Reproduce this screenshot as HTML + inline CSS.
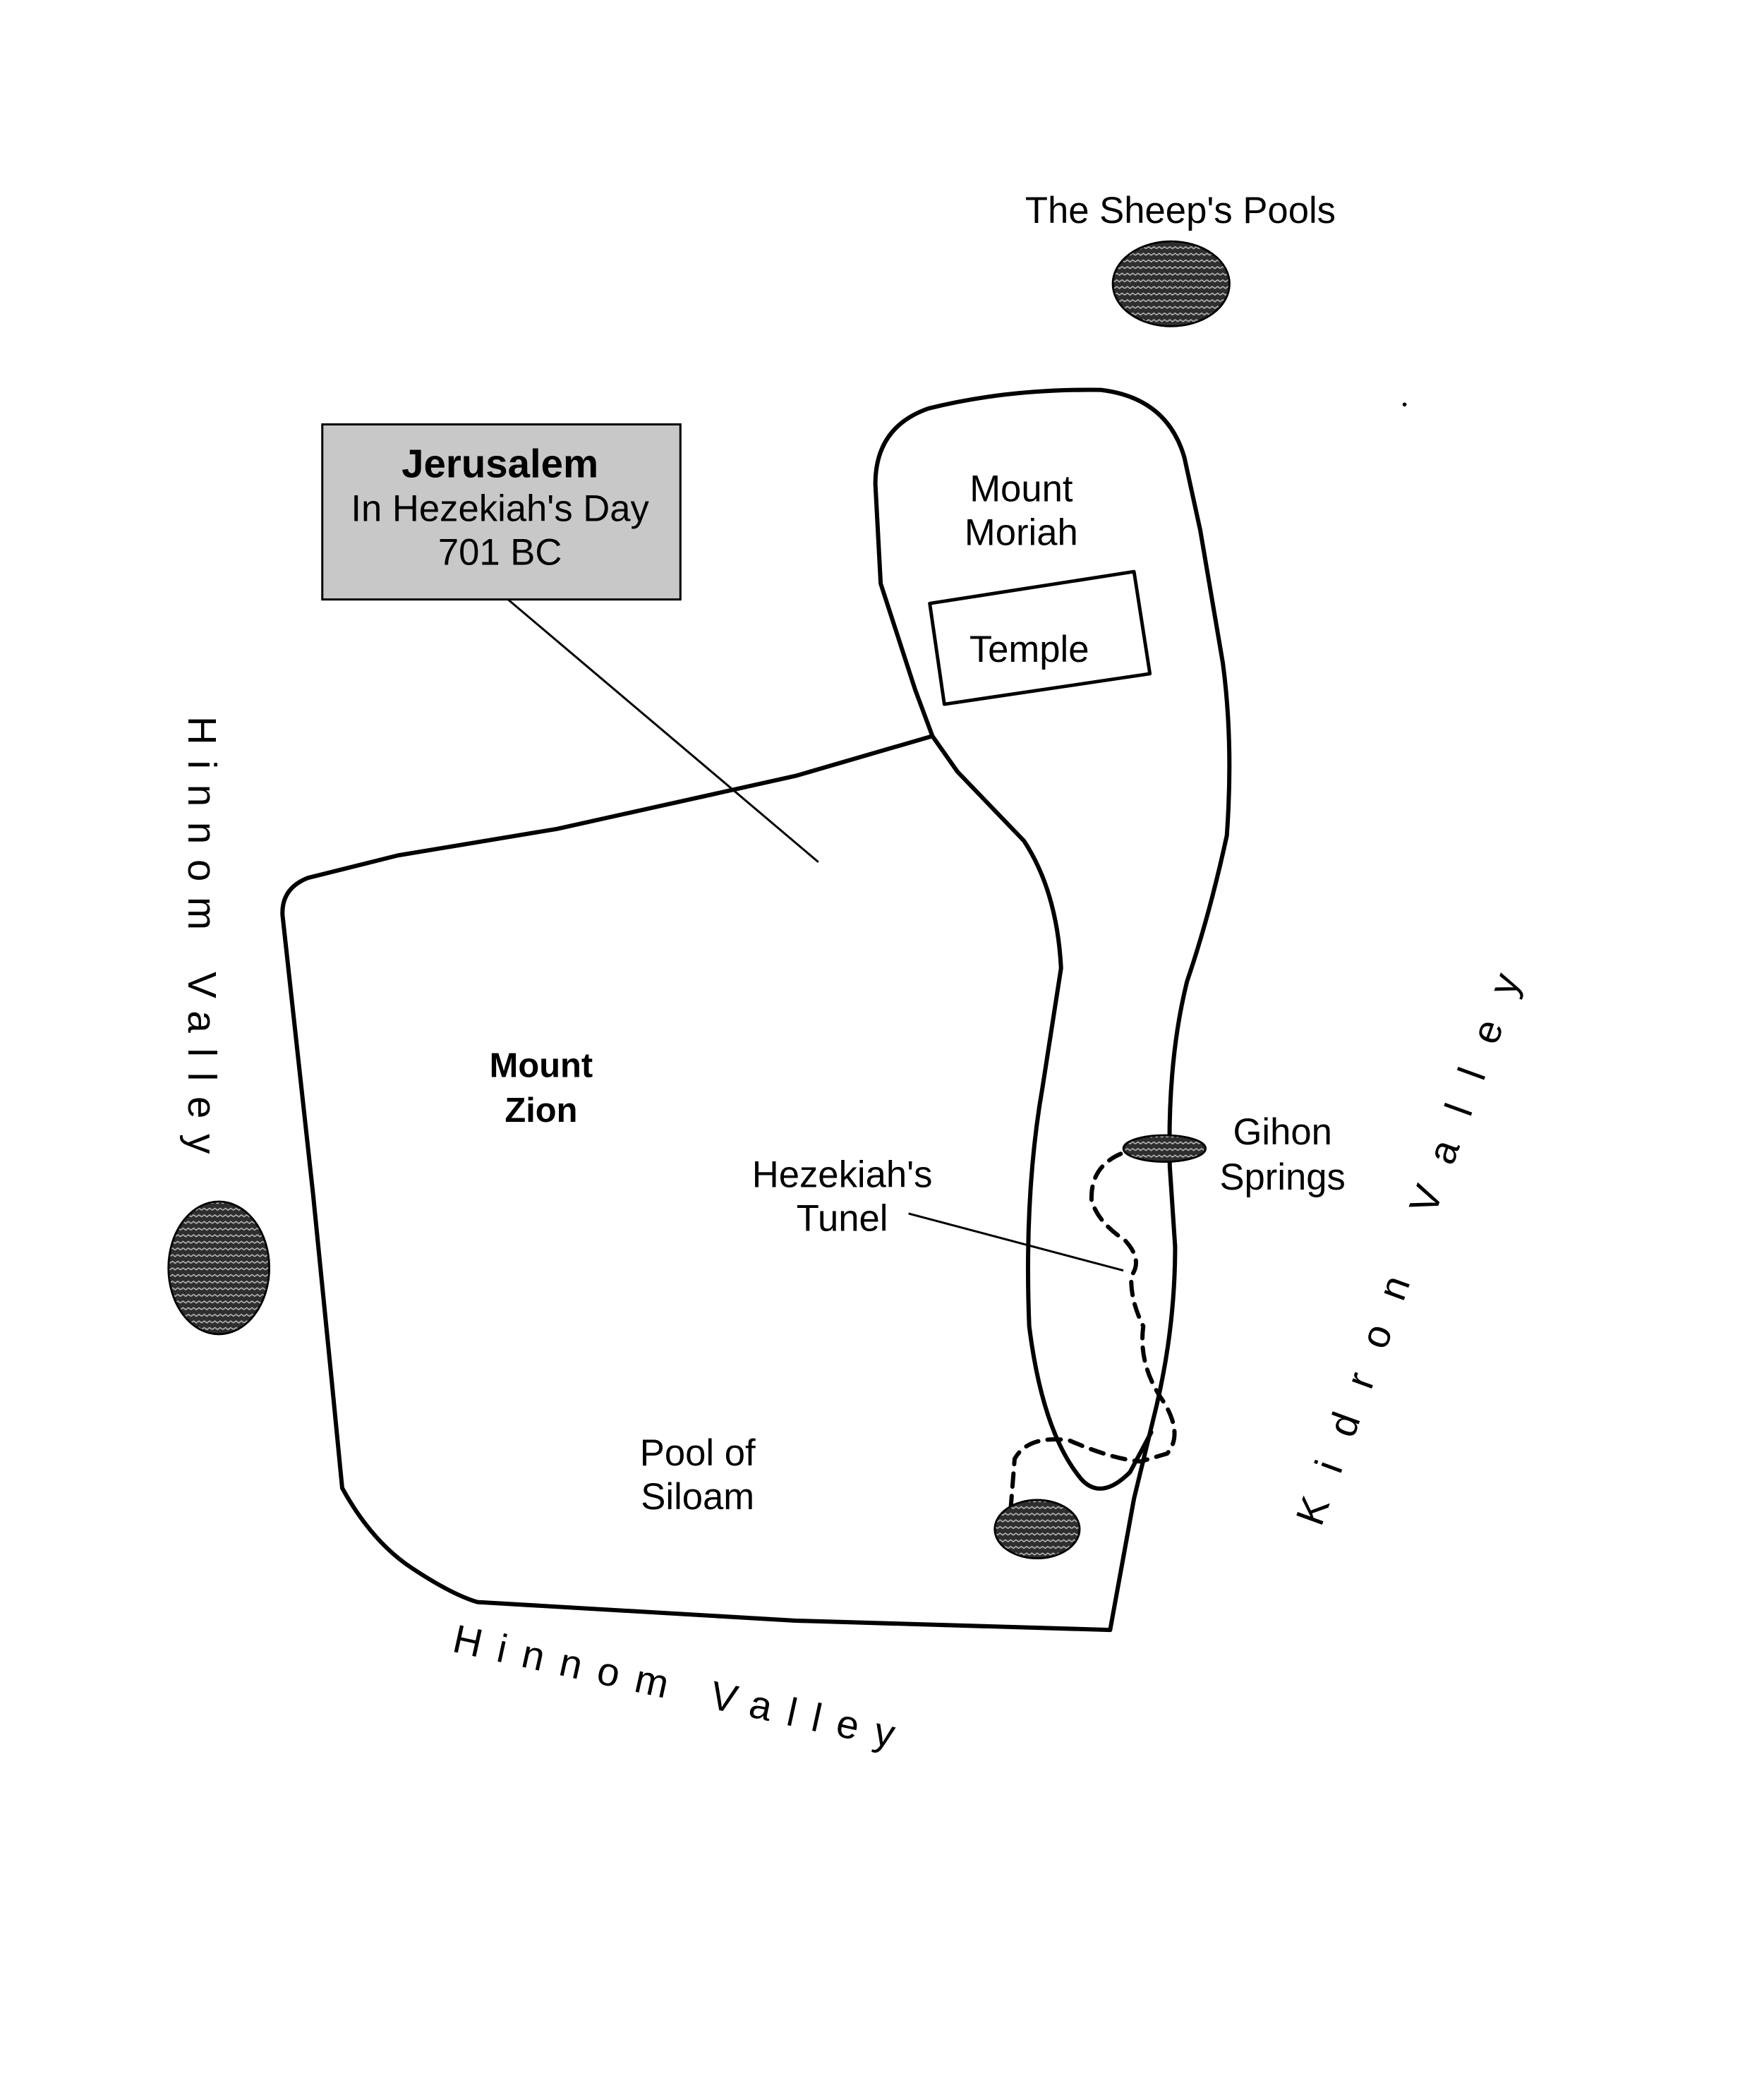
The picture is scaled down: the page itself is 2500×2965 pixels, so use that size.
<!DOCTYPE html>
<html><head><meta charset="utf-8"><style>html,body{margin:0;padding:0;background:#fff}svg{display:block}</style></head>
<body>
<svg width="2500" height="2965" viewBox="0 0 1330 1577.4" xmlns="http://www.w3.org/2000/svg" font-family="Liberation Sans, Arial, sans-serif">
<defs>
<pattern id="wv" width="8" height="5" patternUnits="userSpaceOnUse">
<rect width="8" height="5" fill="#2e2e2e"/>
<path d="M0,2.5 L2,1 L4,2.5 L6,1 L8,2.5" stroke="#bbb" stroke-width="0.8" fill="none"/>
</pattern>
</defs>
<rect width="1330" height="1577.4" fill="#fff"/>
<g fill="none" stroke="#000" stroke-width="3.2" stroke-linejoin="round" stroke-linecap="round">
<path d="M703,555 L600,585 L420,625 L300,645 L232,662 Q212,670 213,690 L236,900 L250,1040 L258,1122 Q280,1162 310,1182 Q340,1202 360,1208 L600,1222 L837,1229 L855,1130 L872,1060 Q886,1000 886,940 L882,880 Q880,800 895,740 Q912,690 925,630 Q930,560 922,500 L905,400 L893,345 Q880,300 830,294 Q760,293 700,308 Q660,322 660,365 L664,440 L690,520 Z"/>
<path d="M703,555 L722,582 L772,634 Q797,672 800,730 L786,820 Q772,900 776,1000 Q786,1080 815,1115 Q830,1132 852,1110 L868,1080"/>
<polygon points="701,455 855,431 867,508 712,531" stroke-width="2.6"/>
<path d="M845,870 Q822,880 823,905 Q828,922 848,935 Q862,950 853,962 Q852,980 862,1000 Q858,1030 878,1058 Q892,1082 880,1096 L860,1102 Q838,1100 806,1086 Q775,1082 765,1100 L762,1138" stroke-dasharray="10,7"/>
</g>
<g stroke="#000" stroke-width="1.6">
<line x1="383" y1="452" x2="617" y2="650"/>
<line x1="685" y1="915" x2="847" y2="958"/>
</g>
<g fill="url(#wv)" stroke="#000" stroke-width="1.5">
<ellipse cx="883" cy="214" rx="44" ry="32"/>
<ellipse cx="165" cy="956" rx="38" ry="50"/>
<ellipse cx="878" cy="866" rx="31" ry="10"/>
<ellipse cx="782" cy="1153" rx="32" ry="22"/>
</g>
<rect x="243" y="320" width="270" height="132" fill="#c8c8c8" stroke="#000" stroke-width="1.6"/>
<g font-size="28" text-anchor="middle" fill="#000">
<text x="377" y="360" font-weight="bold" font-size="30">Jerusalem</text>
<text x="377" y="393">In Hezekiah's Day</text>
<text x="377" y="426">701 BC</text>
<text x="890" y="168">The Sheep's Pools</text>
<text x="770" y="378">Mount</text>
<text x="770" y="411">Moriah</text>
<text x="776" y="499">Temple</text>
<text x="408" y="812" font-weight="bold" font-size="26">Mount</text>
<text x="408" y="846" font-weight="bold" font-size="26">Zion</text>
<text x="635" y="895">Hezekiah's</text>
<text x="635" y="928">Tunel</text>
<text x="967" y="863">Gihon</text>
<text x="967" y="897">Springs</text>
<text x="526" y="1105">Pool of</text>
<text x="526" y="1138">Siloam</text>
</g>
<g font-size="30" fill="#000">
<text transform="translate(142,540) rotate(90)" textLength="330" lengthAdjust="spacing">Hinnom Valley</text>
<text transform="translate(340,1245) rotate(12.4)" textLength="340" lengthAdjust="spacing">Hinnom Valley</text>
<text transform="translate(996,1152) rotate(-70)" textLength="440" lengthAdjust="spacing">Kidron Valley</text>
</g>
<circle cx="1059" cy="305" r="1.5" fill="#000"/>
</svg>
</body></html>
